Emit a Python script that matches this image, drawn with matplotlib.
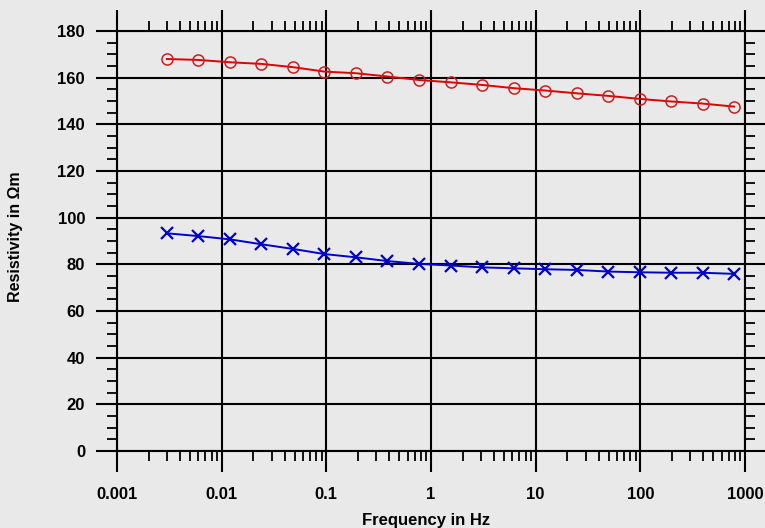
import matplotlib
matplotlib.use("Agg")
import matplotlib.pyplot as plt
from matplotlib.ticker import LogLocator, NullFormatter, FixedLocator, FixedFormatter, MultipleLocator

# Measurement frequencies (Hz)
frequency = [0.003, 0.006, 0.012, 0.024, 0.048, 0.096, 0.192, 0.384, 0.768, 1.536,
             3.072, 6.144, 12.288, 24.576, 49.152, 98.304, 196.608, 393.216, 786.432]

# Apparent resistivity curves (Ohm m)
rho_upper = [168.0, 167.6, 166.6, 165.9, 164.5, 162.6, 161.9, 160.5, 159.0, 158.0,
             156.9, 155.5, 154.5, 153.3, 152.2, 150.9, 149.8, 148.9, 147.6]
rho_lower = [93.3, 92.1, 90.7, 88.6, 86.6, 84.4, 83.0, 81.4, 80.2, 79.5,
             78.7, 78.3, 77.9, 77.6, 76.9, 76.6, 76.4, 76.4, 75.9]

x_ticks = [0.001, 0.01, 0.1, 1, 10, 100, 1000]
x_ticklabels = ["0.001", "0.01", "0.1", "1", "10", "100", "1000"]
y_ticks = [0, 20, 40, 60, 80, 100, 120, 140, 160, 180]

bg = "#e9e9e9"
plt.rcParams["font.family"] = ["Liberation Sans", "DejaVu Sans"]

fig = plt.figure(figsize=(7.65, 5.28), dpi=100, facecolor=bg)
ax = fig.add_axes([117 / 765, 1 - 451 / 528, 628 / 765, 420 / 528], facecolor=bg)

ax.plot(frequency, rho_upper, color="#dd0000", lw=1.4, marker="o", ms=8,
        mfc="none", mec="#c82020", mew=1.1, zorder=3)
ax.plot(frequency, rho_lower, color="#0000cc", lw=1.4, marker="x", ms=8,
        mec="#0000cc", mew=1.6, zorder=3)

ax.set_xscale("log")
ax.set_xlim(0.001, 1000)
ax.set_ylim(0, 180)

ax.xaxis.set_major_locator(FixedLocator(x_ticks))
ax.xaxis.set_major_formatter(FixedFormatter(x_ticklabels))
ax.xaxis.set_minor_locator(LogLocator(base=10, subs=range(2, 10), numticks=20))
ax.xaxis.set_minor_formatter(NullFormatter())
ax.yaxis.set_major_locator(FixedLocator(y_ticks))
ax.yaxis.set_minor_locator(MultipleLocator(5))

ax.grid(True, which="major", color="black", lw=1.5)
for s in ax.spines.values():
    s.set_linewidth(1.5)
    s.set_color("black")

ax.tick_params(which="major", direction="out", length=15, width=1.5,
               top=True, right=True, labelsize=12, colors="black")
ax.tick_params(which="minor", direction="out", length=7.5, width=1.3,
               top=True, right=True)
ax.tick_params(axis="x", which="major", pad=11)
ax.tick_params(axis="y", which="major", pad=8)

for lab in ax.get_xticklabels() + ax.get_yticklabels():
    lab.set_fontweight("bold")

fig.text(426 / 765, 1 - 525 / 528, "Frequency in Hz", fontsize=12,
         fontweight="bold", ha="center", va="baseline")
fig.text(16 / 765, 1 - 237 / 528, "Resistivity in Ωm", fontsize=11.5,
         fontweight="bold", ha="center", va="center", rotation=90)

fig.savefig("out.png", dpi=100, facecolor=bg)
